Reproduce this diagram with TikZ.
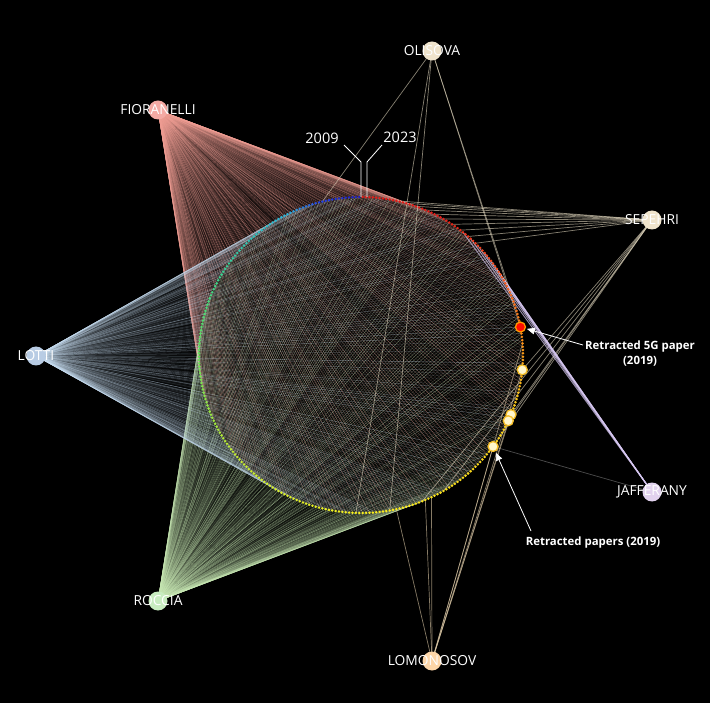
\documentclass[tikz,border=0pt]{standalone}
\usepackage{fontspec}
\setmainfont{Open Sans}
\usetikzlibrary{arrows.meta}
\definecolor{cfio}{RGB}{244,170,164}
\definecolor{efio}{RGB}{240,158,148}
\definecolor{clot}{RGB}{184,204,228}
\definecolor{elot}{RGB}{200,222,242}
\definecolor{croc}{RGB}{200,236,192}
\definecolor{eroc}{RGB}{200,232,180}
\definecolor{cola}{RGB}{240,228,204}
\definecolor{eola}{RGB}{225,215,190}
\definecolor{cjaf}{RGB}{226,210,238}
\definecolor{ejaf}{RGB}{215,200,242}
\definecolor{clom}{RGB}{253,214,168}
\definecolor{elom}{RGB}{225,205,170}
\definecolor{s0}{RGB}{30,30,190}
\definecolor{s1}{RGB}{40,70,230}
\definecolor{s2}{RGB}{40,180,220}
\definecolor{s3}{RGB}{60,210,140}
\definecolor{s4}{RGB}{100,225,90}
\definecolor{s5}{RGB}{190,235,50}
\definecolor{s6}{RGB}{250,240,30}
\definecolor{s7}{RGB}{250,200,25}
\definecolor{s8}{RGB}{250,145,25}
\definecolor{s9}{RGB}{240,80,25}
\definecolor{s10}{RGB}{225,30,25}
\definecolor{retfill}{RGB}{255,246,205}
\definecolor{retdraw}{RGB}{245,190,40}
\pgfdeclarelayer{back}
\pgfdeclarelayer{edges}
\pgfsetlayers{back,edges,main}
\begin{document}
\begin{tikzpicture}[x=1pt,y=-1pt,
  author/.style={circle,minimum size=19pt,inner sep=0pt},
  alab/.style={text=white,font=\fontsize{13.8}{14}\selectfont,inner sep=0pt},
  fan/.style={line width=0.45pt},
  few/.style={line width=0.7pt,draw opacity=0.6},
  retr/.style={circle,minimum size=10pt,inner sep=0pt,fill=retfill,draw=retdraw,line width=1.3pt},
  yrlab/.style={text=white,font=\fontsize{14.5}{15}\selectfont,inner sep=0pt},
  yrline/.style={white,line width=0.8pt},
  ann/.style={text=white,font=\bfseries\fontsize{11.4}{15}\selectfont,align=center,inner sep=0pt},
  annarrow/.style={white,line width=0.8pt,-{Triangle[length=8pt,width=6.5pt]},shorten >=1pt}]
\begin{pgfonlayer}{back}
\fill[black] (0,0) rectangle (710,703);
\end{pgfonlayer}
\useasboundingbox (0,0) rectangle (710,703);

% papers on the ring
\foreach \i in {0,...,299}{
  \pgfmathsetmacro\a{90+1.2*(\i+0.5)}
  \coordinate (p\i) at ({361+162*cos(\a)},{355-158*sin(\a)});
}

% authors
\node[author,fill=cola] (ol) at (432,51) {};
\node[author,fill=cfio] (fi) at (158,110) {};
\node[author,fill=cola] (se) at (652,220) {};
\node[author,fill=clot] (lt) at (36,356) {};
\node[author,fill=cjaf] (ja) at (652,492) {};
\node[author,fill=croc] (ro) at (158,601) {};
\node[author,fill=clom] (lo) at (432,661) {};

\pgfmathsetseed{4242}
\begin{pgfonlayer}{edges}
\foreach \i in {0,...,299}{
  \pgfmathsetmacro\op{0.18+0.4*rnd}
  \draw[fan,efio,draw opacity=\op] (fi.center) -- (p\i);
}
\foreach \i in {0,...,299}{
  \pgfmathsetmacro\op{0.12+0.4*rnd}
  \draw[fan,eroc,draw opacity=\op] (ro.center) -- (p\i);
}
\foreach \i in {0,...,299}{
  \pgfmathsetmacro\op{0.05+0.4*rnd}
  \draw[fan,elot,draw opacity=\op] (lt.center) -- (p\i);
}
\foreach \i in {11,148,158,233,238}{
  \draw[few,eola] (ol.center) -- (p\i);
}
\foreach \i in {262,265,268,271,274,277,280,283,286,289,175,168,195,204,206,220}{
  \draw[few,eola] (se.center) -- (p\i);
}
\foreach \i in {246,249,252,255,258,261,264,267}{
  \draw[few,ejaf,draw opacity=0.7,line width=0.9pt] (ja.center) -- (p\i);
}
\draw[few,gray] (ja.center) -- (p195);
\foreach \i in {160,169,171,195,204,206,220,228}{
  \draw[few,elom] (lo.center) -- (p\i);
}
\end{pgfonlayer}

% paper dots
\foreach \s/\e/\ca/\cb in {0/12/s0/s1,12/22/s1/s2,22/50/s2/s3,50/75/s3/s4,75/105/s4/s5,105/150/s5/s6,150/210/s6/s7,210/228/s7/s8,228/250/s8/s9,250/275/s9/s10,275/300/s10/s10}{
  \pgfmathtruncatemacro\last{\e-1}
  \foreach \i in {\s,...,\last}{
    \pgfmathtruncatemacro\pc{100*(\i-\s)/(\e-\s)}
    \fill[\cb!\pc!\ca] (p\i) circle[radius=1.4];
  }
}

% retracted papers
\node[retr,fill=red!90!orange,draw=orange!80!yellow] (g5) at (p233) {};
\node[retr] (r1) at (p220) {};
\node[retr] (r2) at (p206) {};
\node[retr] (r3) at (p204) {};
\node[retr] (r4) at (p195) {};

% author labels
\node[alab] (oll) at (ol) {OLISOVA};
\node[alab] (fil) at (fi) {FIORANELLI};
\node[alab] (sel) at (se) {SEPEHRI};
\node[alab] (ltl) at (lt) {LOTTI};
\node[alab] (jal) at (ja) {JAFFERANY};
\node[alab] (rol) at (ro) {ROCCIA};
\node[alab] (lol) at (lo) {LOMONOSOV};

% year markers
\node[yrlab] (y09) at (322,138) {2009};
\node[yrlab] (y23) at (400,137) {2023};
\coordinate (c09) at (344,145);
\coordinate (k09) at (361,162);
\coordinate (c23) at (382,145);
\coordinate (k23) at (367,162);
\draw[yrline] (c09) -- (k09) -- (k09 |- p0);
\draw[yrline] (c23) -- (k23) -- (k23 |- p299);

% annotations
\node[ann] (t5g) at (640,354) {Retracted 5G paper\\(2019)};
\coordinate (a5g) at (583,345);
\draw[annarrow] (a5g) -- (g5);
\node[ann] (tret) at (593,543) {Retracted papers (2019)};
\coordinate (aret) at (531,531);
\draw[annarrow] (aret) -- (r4);
\end{tikzpicture}
\end{document}
